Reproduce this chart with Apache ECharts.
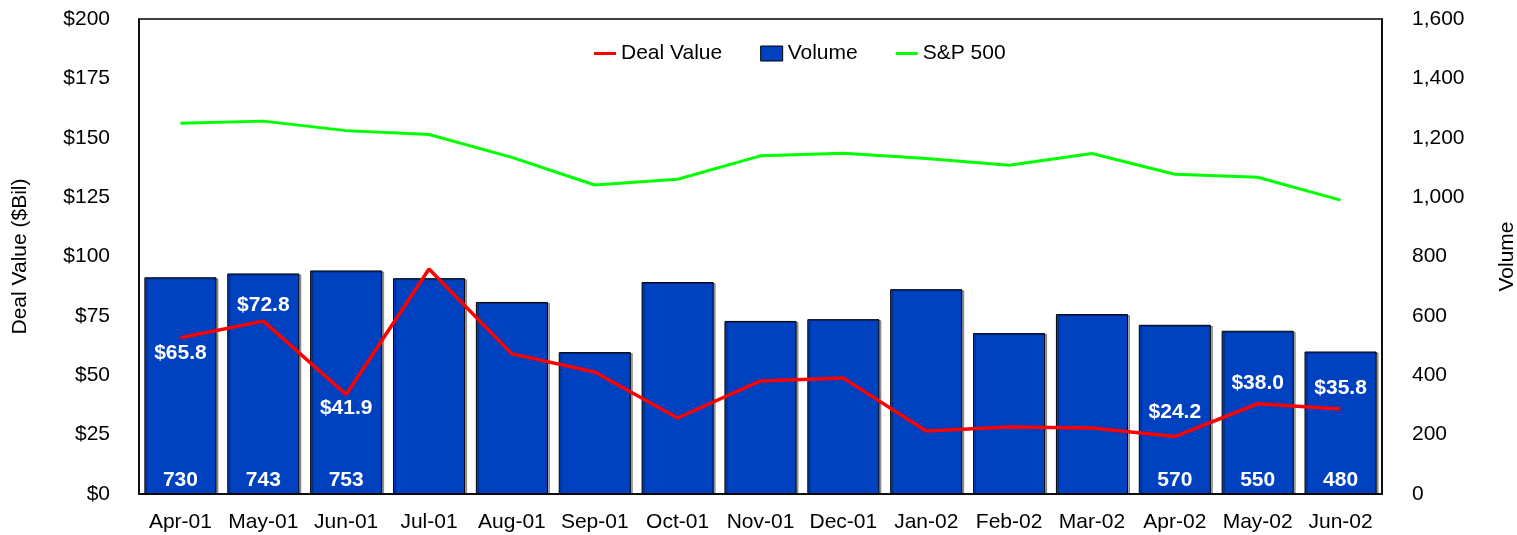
<!DOCTYPE html>
<html style="height: 100%">
<head>
    <meta charset="utf-8">
    <title>Deal Value vs Volume</title>
</head>
<body style="height: 100%; margin: 0; background: #fff">
<div id="container" style="width: 1517px; height: 535px"></div>
<script type="text/javascript" src="https://cdn.jsdelivr.net/npm/echarts@6/dist/echarts.min.js"></script>
<script type="text/javascript">
    var months = ['Apr-01', 'May-01', 'Jun-01', 'Jul-01', 'Aug-01', 'Sep-01', 'Oct-01', 'Nov-01',
        'Dec-01', 'Jan-02', 'Feb-02', 'Mar-02', 'Apr-02', 'May-02', 'Jun-02'];
    var dealValue = [65.8, 72.8, 41.9, 94.7, 59.0, 51.4, 32.0, 47.6, 48.8, 26.5, 28.2, 27.8, 24.2, 38.0, 35.8];
    var volume = [730, 743, 753, 727, 647, 478, 714, 583, 589, 690, 542, 606, 570, 550, 480];
    var sp500 = [1249, 1256, 1224, 1211, 1134, 1041, 1060, 1139, 1148, 1130, 1107, 1147, 1077, 1067, 990];
    // months whose values are printed on the chart
    var labeledMonths = ['Apr-01', 'May-01', 'Jun-01', 'Apr-02', 'May-02', 'Jun-02'];

    var font = '"Liberation Sans", Arial, sans-serif';
    var dom = document.getElementById("container");
    var myChart = echarts.init(dom);

    var valueLabel = {
        show: true, color: '#fff', fontFamily: font, fontSize: 21, fontWeight: 'bold'
    };
    // where the deal value label sits relative to its point
    var dealLabelPlace = {
        'Apr-01': ['bottom', 5], 'May-01': ['top', 5], 'Jun-01': ['bottom', 3],
        'Apr-02': ['top', 14], 'May-02': ['top', 10], 'Jun-02': ['top', 10]
    };

    var dealData = dealValue.map(function (v, i) {
        var pl = dealLabelPlace[months[i]];
        if (labeledMonths.indexOf(months[i]) < 0) return v;
        return {value: v, label: Object.assign({}, valueLabel, {
            position: pl[0], distance: pl[1], formatter: '$' + v.toFixed(1)
        })};
    });
    var volData = volume.map(function (v, i) {
        if (labeledMonths.indexOf(months[i]) < 0) return v;
        return {value: v, label: Object.assign({}, valueLabel, {position: 'insideBottom', distance: 3})};
    });

    var option = {
        animation: false,
        textStyle: {fontFamily: font},
        grid: {
            left: 139, right: 135, top: 19, bottom: 41, show: true,
            borderColor: '#000', borderWidth: 1.5, outerBoundsMode: 'none', containLabel: false
        },
        legend: {
            top: 38, left: 589, itemGap: 38, itemWidth: 22, itemHeight: 15,
            textStyle: {fontSize: 21, color: '#000', fontFamily: font},
            data: [
                {name: 'Deal Value', icon: 'path://M0,6 L22,6 L22,9 L0,9 Z'},
                {name: 'Volume', icon: 'rect', itemStyle: {borderColor: '#000', borderWidth: 1}},
                {name: 'S&P 500', icon: 'path://M0,6 L22,6 L22,9 L0,9 Z'}
            ]
        },
        xAxis: {
            type: 'category', data: months,
            axisLine: {show: true, lineStyle: {color: '#000', width: 1.5}},
            axisTick: {show: false},
            axisLabel: {color: '#000', fontSize: 21, margin: 18, interval: 0}
        },
        yAxis: [
            {
                type: 'value', min: 0, max: 200, interval: 25,
                name: 'Deal Value ($Bil)', nameLocation: 'middle', nameGap: 108, nameRotate: 90,
                nameTextStyle: {color: '#000', fontSize: 21},
                axisLine: {show: true, lineStyle: {color: '#000', width: 1.5}},
                axisTick: {show: false}, splitLine: {show: false},
                axisLabel: {color: '#000', fontSize: 21, margin: 29, formatter: '${value}'}
            },
            {
                type: 'value', min: 0, max: 1600, interval: 200,
                name: 'Volume', nameLocation: 'middle', nameGap: 115, nameRotate: 90,
                nameTextStyle: {color: '#000', fontSize: 21},
                axisLine: {show: true, lineStyle: {color: '#000', width: 1.5}},
                axisTick: {show: false}, splitLine: {show: false},
                axisLabel: {
                    color: '#000', fontSize: 21, margin: 30,
                    formatter: function (v) { return v.toLocaleString('en-US'); }
                }
            }
        ],
        series: [
            {
                name: 'Volume', type: 'bar', yAxisIndex: 1, data: volData, z: 1,
                barCategoryGap: '13%',
                itemStyle: {
                    color: '#0041BF', borderColor: '#000', borderWidth: 1,
                    shadowColor: 'rgba(0,0,0,0.35)', shadowOffsetX: 2, shadowOffsetY: 1, shadowBlur: 0
                }
            },
            {
                name: 'Deal Value', type: 'line', yAxisIndex: 0, data: dealData, z: 3,
                showSymbol: true, symbol: 'circle', symbolSize: 0.01,
                lineStyle: {color: '#FF0000', width: 3.5}, itemStyle: {color: '#FF0000'}
            },
            {
                name: 'S&P 500', type: 'line', yAxisIndex: 1, data: sp500, z: 3,
                showSymbol: false, symbol: 'none',
                lineStyle: {color: '#00FF00', width: 3}, itemStyle: {color: '#00FF00'}
            }
        ]
    };
    myChart.setOption(option, true);
</script>
</body>
</html>
